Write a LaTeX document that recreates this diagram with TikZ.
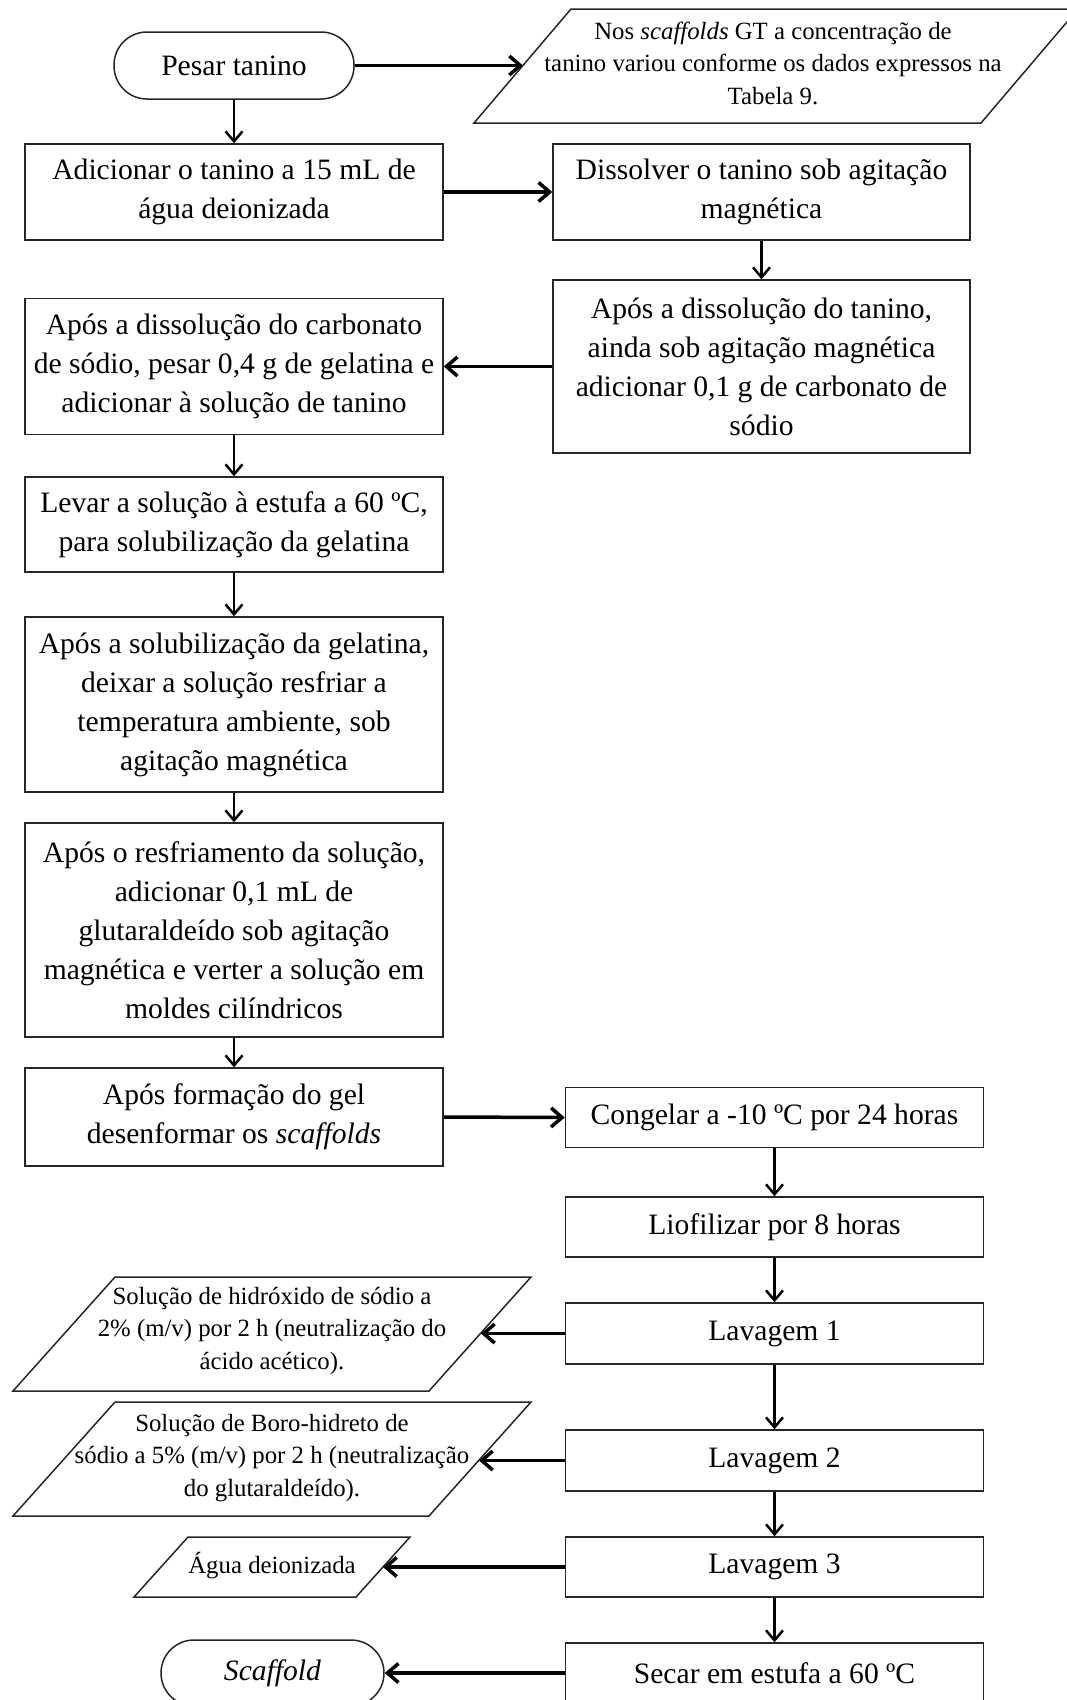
\documentclass[tikz,border=0pt]{standalone}
\usepackage{fontspec}
\setmainfont{Liberation Serif}
\usetikzlibrary{arrows.meta}

% text sizes used in the chart
\newcommand{\stepfont}{\fontsize{29.6}{39}\selectfont}
\newcommand{\notefont}{\fontsize{24.8}{32.5}\selectfont}

\begin{document}
\begin{tikzpicture}[x=1pt,y=-1pt,
  box/.style={draw=black!85, line width=1.5pt, align=center, inner sep=0pt, font=\stepfont},
  lbox/.style={box, minimum width=418pt},
  rbox/.style={box, minimum width=417pt},
  term/.style={box, rounded corners=33pt, minimum height=67pt},
  note/.style={align=center, inner sep=0pt, font=\notefont},
  para/.style={draw=black!85, line width=1.5pt, line join=miter},
  flow/.style={line width=2.5pt, -{Straight Barb[length=10pt,width=17pt]}},
  side/.style={line width=3.5pt, -{Straight Barb[length=11pt,width=19pt]}},
]
\useasboundingbox (0,0) rectangle (1067,1700);
\clip (0,0) rectangle (1067,1700);

% ---------- start ----------
\node[term, minimum width=240pt] (pesar) at (234,65.5) {Pesar tanino};

% note about the tannin concentration
\draw[para] (571,9) -- (1078,9) -- (981,123) -- (474,123) -- cycle;
\node[note] (nos) at (773,63) {Nos \textit{scaffolds} GT a concentração de\\
  tanino variou conforme os dados expressos na\\ Tabela 9.};
\coordinate (nosL) at (523,65.5);

% ---------- left column ----------
\node[lbox, minimum height=96pt]  (adic)   at (234,192)   {Adicionar o tanino a 15 mL de\\ água deionizada};
\node[lbox, minimum height=136pt] (carb)   at (234,366.5) {Após a dissolução do carbonato\\ de sódio, pesar 0,4 g de gelatina e\\ adicionar à solução de tanino};
\node[lbox, minimum height=95pt]  (levar)  at (234,524.5) {Levar a solução à estufa a 60 ºC,\\ para solubilização da gelatina};
\node[lbox, minimum height=175pt] (solub)  at (234,704.5) {Após a solubilização da gelatina,\\ deixar a solução resfriar a\\ temperatura ambiente, sob\\ agitação magnética};
\node[lbox, minimum height=214pt] (resfr)  at (234,930)   {Após o resfriamento da solução,\\ adicionar 0,1 mL de\\ glutaraldeído sob agitação\\ magnética e verter a solução em\\ moldes cilíndricos};
\node[lbox, minimum height=98pt]  (gel)    at (234,1117)  {Após formação do gel\\ desenformar os \textit{scaffolds}};

% ---------- right column, top ----------
\node[rbox, minimum height=96pt]  (dissol) at (761.5,192)   {Dissolver o tanino sob agitação\\ magnética};
\node[rbox, minimum height=173pt] (carbad) at (761.5,366.5) {Após a dissolução do tanino,\\ ainda sob agitação magnética\\ adicionar 0,1 g de carbonato de\\ sódio};

% ---------- right column, bottom ----------
\node[lbox, minimum height=60pt] (congel) at (774.5,1117.5) {Congelar a -10 ºC por 24 horas};
\node[lbox, minimum height=60pt] (liof)   at (774.5,1227)   {Liofilizar por 8 horas};
\node[lbox, minimum height=61pt] (lav1)   at (774.5,1333.5) {Lavagem 1};
\node[lbox, minimum height=61pt] (lav2)   at (774.5,1460.5) {Lavagem 2};
\node[lbox, minimum height=60pt] (lav3)   at (774.5,1567)   {Lavagem 3};
\node[lbox, minimum height=60pt] (secar)  at (774.5,1673)   {Secar em estufa a 60 ºC};

% ---------- washing solutions ----------
\draw[para] (115,1277) -- (531,1277) -- (429,1391) -- (13,1391) -- cycle;
\node[note] (naoh) at (272,1331) {Solução de hidróxido de sódio a\\ 2\% (m/v) por 2 h (neutralização do\\ ácido acético).};
\coordinate (naohR) at (481,1333.5);

\draw[para] (115,1402) -- (531,1402) -- (429,1516) -- (13,1516) -- cycle;
\node[note] (boro) at (272,1458) {Solução de Boro-hidreto de\\ sódio a 5\% (m/v) por 2 h (neutralização\\ do glutaraldeído).};
\coordinate (boroR) at (479,1460.5);

\draw[para] (188,1537) -- (410,1537) -- (356,1597) -- (134,1597) -- cycle;
\node[note] (agua) at (272,1566) {Água deionizada};
\coordinate (aguaR) at (383,1567);

% ---------- end ----------
\node[term, minimum width=223pt, minimum height=66pt] (scaf) at (272.5,1673) {\textit{Scaffold}};

% ---------- connectors ----------
\draw[side] (pesar.east) -- (nosL);
\draw[flow] (pesar.south) -- (adic.north);
\draw[side] (adic.east) -- (dissol.west);
\draw[flow] (dissol.south) -- (carbad.north);
\draw[side] (carbad.west) -- (carb.east);
\draw[flow] (carb.south) -- (levar.north);
\draw[flow] (levar.south) -- (solub.north);
\draw[flow] (solub.south) -- (resfr.north);
\draw[flow] (resfr.south) -- (gel.north);
\draw[side] (gel.east) -- (congel.west);
\draw[flow] (congel.south) -- (liof.north);
\draw[flow] (liof.south) -- (lav1.north);
\draw[side] (lav1.west) -- (naohR);
\draw[flow] (lav1.south) -- (lav2.north);
\draw[side] (lav2.west) -- (boroR);
\draw[flow] (lav2.south) -- (lav3.north);
\draw[side] (lav3.west) -- (aguaR);
\draw[flow] (lav3.south) -- (secar.north);
\draw[side] (secar.west) -- (scaf.east);
\end{tikzpicture}
\end{document}
